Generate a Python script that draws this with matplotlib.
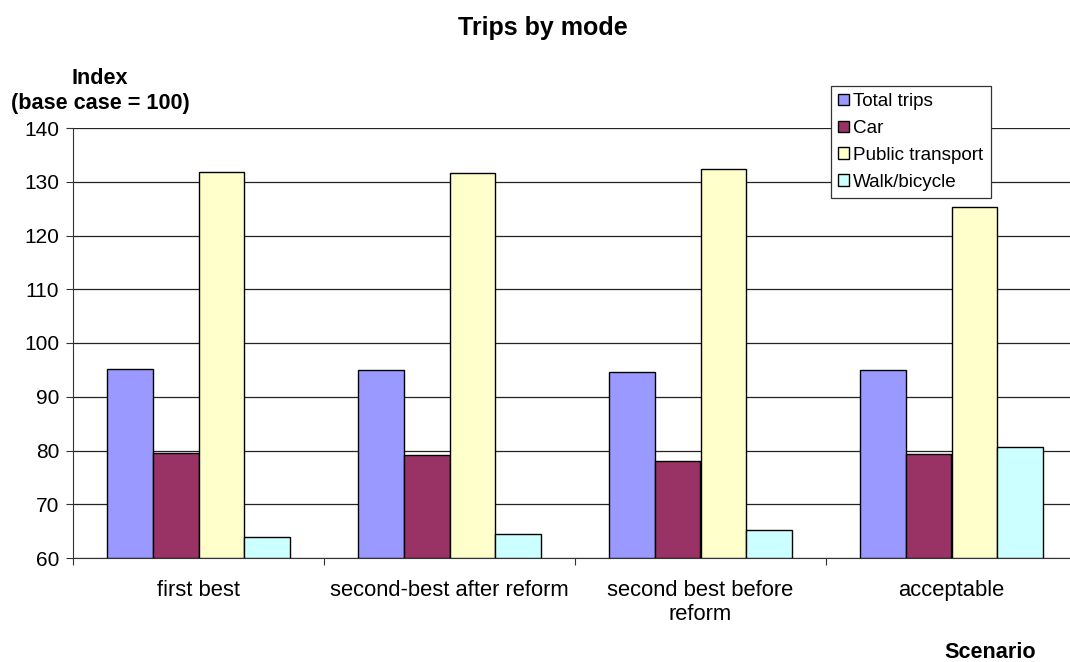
import numpy as np
import matplotlib as mpl
mpl.use('Agg')
import matplotlib.pyplot as plt
from matplotlib.ticker import FixedLocator

scenarios = ['first best', 'second-best after reform', 'second best before\nreform', 'acceptable']
series_names = ['Total trips', 'Car', 'Public transport', 'Walk/bicycle']
total_trips = [95.2, 95.0, 94.6, 95.0]
car = [79.5, 79.2, 78.0, 79.3]
public_transport = [131.8, 131.6, 132.4, 125.3]
walk_bicycle = [63.9, 64.5, 65.2, 80.6]
y_ticks = [60, 70, 80, 90, 100, 110, 120, 130, 140]

colors = ['#9999FF', '#993366', '#FFFFCC', '#CCFFFF']

plt.rcParams['font.family'] = ['Liberation Sans', 'DejaVu Sans']
plt.rcParams['font.size'] = 11

fig = plt.figure(figsize=(10.7, 6.62), dpi=100)
W, H = 1070., 662.
ax = fig.add_axes([73/W, 1-558/H, 1004/W, 430/H])

values = [total_trips, car, public_transport, walk_bicycle]
n = len(scenarios)
x = np.arange(n) + 0.5
bw = 0.182
for i, (name, vals) in enumerate(zip(series_names, values)):
	offs = (i - 1.5) * bw
	ax.bar(x + offs, np.array(vals) - 60, bottom=60, width=bw, color=colors[i],
		   edgecolor='black', linewidth=1.0, label=name, zorder=3)

ax.set_xlim(0, n)
ax.set_ylim(60, 140)
ax.set_yticks(y_ticks)
ax.yaxis.grid(True, color='#222222', linewidth=0.9, zorder=0)

ax.spines['top'].set_visible(False)
ax.spines['right'].set_visible(False)
ax.spines['left'].set_color('#333333')
ax.spines['bottom'].set_color('#333333')

ax.xaxis.set_major_locator(FixedLocator(range(n + 1)))
ax.xaxis.set_major_formatter(mpl.ticker.NullFormatter())
ax.xaxis.set_minor_locator(FixedLocator(x))
ax.set_xticklabels(scenarios, minor=True, linespacing=1.15)
ax.tick_params(axis='x', which='major', direction='out', length=5, color='#333333')
ax.tick_params(axis='x', which='minor', length=0, pad=16, labelsize=15.8)
ax.tick_params(axis='y', direction='out', length=5, pad=5, color='#333333', labelsize=15)

leg = fig.legend(loc='upper left', bbox_to_anchor=(831/W, 1-86/H), frameon=True,
				 fancybox=False, edgecolor='#333333', framealpha=1, fontsize=13.6,
				 handlelength=0.55, handleheight=0.55, handletextpad=0.25,
				 labelspacing=0.52, borderpad=0.38, borderaxespad=0)
leg.get_frame().set_linewidth(0.9)

fig.text(543/W, 1-28/H, 'Trips by mode', ha='center', va='center', fontsize=18, fontweight='bold')
fig.text(100/W, 1-91/H, 'Index\n(base case = 100)', ha='center', va='center', fontsize=15.6,
		 fontweight='bold', multialignment='center', linespacing=1.25)
fig.text(990/W, 1-652/H, 'Scenario', ha='center', va='center', fontsize=15.6, fontweight='bold')

fig.savefig('out.png', dpi=100, facecolor='w')
